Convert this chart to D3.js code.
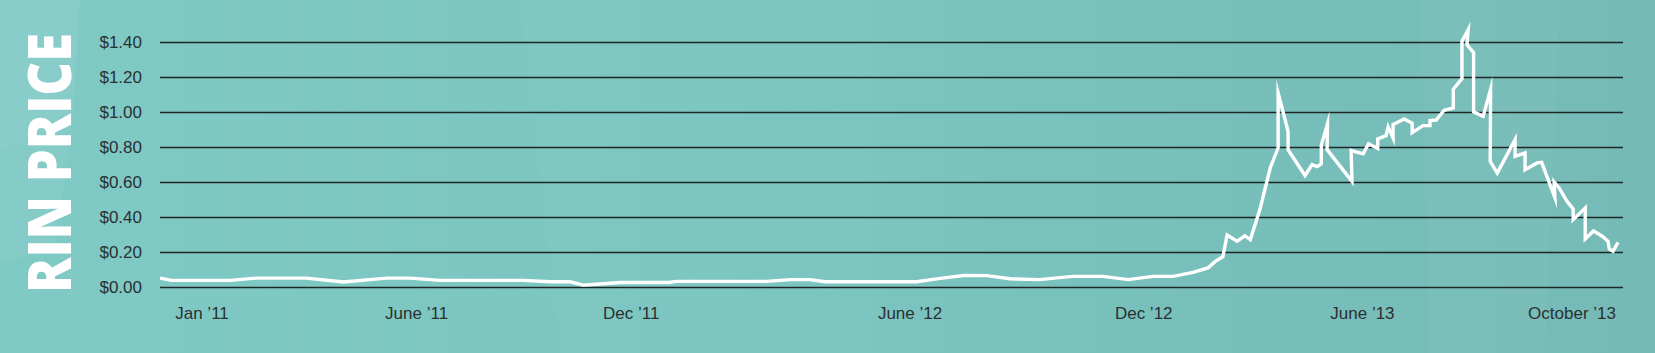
<!DOCTYPE html>
<html>
<head>
<meta charset="utf-8">
<script src="https://cdn.jsdelivr.net/npm/d3@7"></script>
<style>
    body { margin: 0; background: #7cc4c0; }
    svg { display: block; }
    .grid line { stroke: #1f2626; stroke-width: 1.3; }
    .grid path { display: none; }
    .axis text { font-family: "Liberation Sans", Arial, sans-serif; font-size: 17px; fill: #2a3030; }
    .axis path, .axis line { display: none; }
</style>
</head>
<body>
<div id="chart"></div>
<script>
// data: x = months since Jan 2011, y = price in $
var months = [-1.00, -0.72, 0.69, 1.33, 2.53, 3.42, 4.46, 5.02, 5.75, 7.75, 8.40, 8.88, 9.20, 9.60,
    10.08, 11.25, 11.45, 13.62, 14.18, 14.66, 15.02, 17.23, 17.80, 18.36, 18.92, 19.48, 20.19, 20.99,
    21.72, 22.33, 22.93, 23.41, 23.89, 24.25, 24.42, 24.61, 24.71, 24.95, 25.14, 25.27, 25.51, 25.75,
    25.94, 25.94, 26.18, 26.18, 26.59, 26.76, 26.88, 26.98, 26.98, 27.13, 27.12, 27.72, 27.70, 27.99,
    28.12, 28.34, 28.34, 28.54, 28.59, 28.71, 28.71, 28.98, 29.17, 29.17, 29.43, 29.60, 29.60, 29.75,
    29.94, 30.16, 30.16, 30.37, 30.37, 30.52, 30.49, 30.65, 30.65, 30.88, 31.06, 31.05, 31.22, 31.65,
    31.65, 31.89, 31.89, 32.18, 32.29, 32.61, 32.59, 32.71, 32.90, 33.05, 33.05, 33.34, 33.34, 33.54,
    33.75, 33.89, 33.92, 34.01, 34.13];
var prices = [0.051, 0.038, 0.038, 0.051, 0.051, 0.029, 0.051, 0.051, 0.038, 0.038, 0.030, 0.030, 0.011, 0.017,
    0.026, 0.026, 0.032, 0.032, 0.042, 0.042, 0.030, 0.030, 0.049, 0.066, 0.065, 0.047, 0.042, 0.061,
    0.061, 0.042, 0.061, 0.061, 0.084, 0.109, 0.145, 0.173, 0.297, 0.262, 0.293, 0.270, 0.450, 0.680,
    0.794, 1.109, 0.890, 0.785, 0.637, 0.699, 0.688, 0.704, 0.810, 0.932, 0.785, 0.604, 0.780, 0.761,
    0.819, 0.792, 0.846, 0.865, 0.915, 0.851, 0.928, 0.960, 0.935, 0.882, 0.922, 0.922, 0.951, 0.954,
    1.010, 1.023, 1.130, 1.191, 1.404, 1.470, 1.385, 1.339, 1.001, 0.975, 1.130, 0.718, 0.651, 0.842,
    0.747, 0.766, 0.670, 0.709, 0.712, 0.509, 0.600, 0.566, 0.490, 0.446, 0.385, 0.451, 0.274, 0.320,
    0.290, 0.261, 0.217, 0.204, 0.255];

var tickMonths = [0, 5.17, 10.34, 17.06, 22.69, 27.96, 33.01];
var tickLabels = ["Jan \u201911", "June \u201911", "Dec \u201911", "June \u201912", "Dec \u201912", "June \u201913", "October \u201913"];
var priceTicks = [0, 0.2, 0.4, 0.6, 0.8, 1.0, 1.2, 1.4];

var svgWidth = 1655;
var svgHeight = 353;

var margin = { top: 42, right: 32, bottom: 66, left: 160 };
var width = svgWidth - margin.left - margin.right;
var height = svgHeight - margin.top - margin.bottom;

var svg = d3.select("#chart")
    .append("svg")
    .attr("width", svgWidth)
    .attr("height", svgHeight);

// fondo con degradado y papel
var defs = svg.append("defs");
var grad = defs.append("linearGradient")
    .attr("id", "bg")
    .attr("x1", "0%").attr("x2", "100%")
    .attr("y1", "0%").attr("y2", "0%");
grad.append("stop").attr("offset", "0%").attr("stop-color", "#80cac6");
grad.append("stop").attr("offset", "55%").attr("stop-color", "#7ac3bf");
grad.append("stop").attr("offset", "100%").attr("stop-color", "#75bab6");

svg.append("rect")
    .attr("width", svgWidth)
    .attr("height", svgHeight)
    .attr("fill", "url(#bg)");

var patches = [
    [[0, 0], [80, 0], [72, 125], [0, 150]],
    [[0, 150], [72, 125], [55, 250], [0, 262]],
    [[520, 0], [900, 0], [880, 353], [560, 353]],
    [[1420, 0], [1560, 0], [1545, 353], [1430, 353]]
];
var patchOpacity = [0.07, 0.04, 0.02, 0.03];
svg.selectAll(".patch")
    .data(patches)
    .enter()
    .append("polygon")
    .attr("class", "patch")
    .attr("points", d => d.map(p => p.join(",")).join(" "))
    .attr("fill", "#ffffff")
    .attr("opacity", (d, i) => patchOpacity[i]);

var chartGroup = svg.append("g")
    .attr("transform", `translate(${margin.left}, ${margin.top})`);

// escalas
var xLinearScale = d3.scaleLinear()
    .domain([-1, 34.25])
    .range([0, width]);

var yLinearScale = d3.scaleLinear()
    .domain([0, 1.4])
    .range([height, 0]);

// lineas de la cuadricula
chartGroup.append("g")
    .attr("class", "grid")
    .call(d3.axisLeft(yLinearScale).tickValues(priceTicks).tickSize(-width).tickFormat(""));

// etiquetas eje y
chartGroup.append("g")
    .attr("class", "axis")
    .attr("transform", "translate(-18, 0)")
    .call(d3.axisLeft(yLinearScale).tickValues(priceTicks).tickSize(0).tickPadding(0)
        .tickFormat(d => "$" + d3.format(".2f")(d)));

// etiquetas eje x
var xAxis = chartGroup.append("g")
    .attr("class", "axis")
    .attr("transform", `translate(0, ${height})`)
    .call(d3.axisBottom(xLinearScale).tickValues(tickMonths).tickSize(0).tickPadding(0)
        .tickFormat((d, i) => tickLabels[i]));
xAxis.selectAll("text").attr("dy", null).attr("y", 32);

// linea de precio
var points = months.map((m, i) => [m, prices[i]]);
var line = d3.line()
    .x(d => xLinearScale(d[0]))
    .y(d => yLinearScale(d[1]));

chartGroup.append("path")
    .datum(points)
    .attr("d", line)
    .attr("fill", "none")
    .attr("stroke", "#ffffff")
    .attr("stroke-width", 3.4)
    .attr("stroke-linejoin", "miter")
    .attr("stroke-miterlimit", 10);

// titulo vertical (se escala a lo largo del texto para ocupar 260px)
var title = svg.append("text")
    .style("font-family", "'Open Sans', 'DejaVu Sans', sans-serif")
    .style("font-weight", 800)
    .style("font-size", "60px")
    .attr("fill", "#ffffff")
    .text("RIN PRICE");
var titleLen = title.node().getComputedTextLength();
title.attr("transform", `translate(71, 293) rotate(-90) scale(${260 / titleLen}, 1)`);
</script>
</body>
</html>
